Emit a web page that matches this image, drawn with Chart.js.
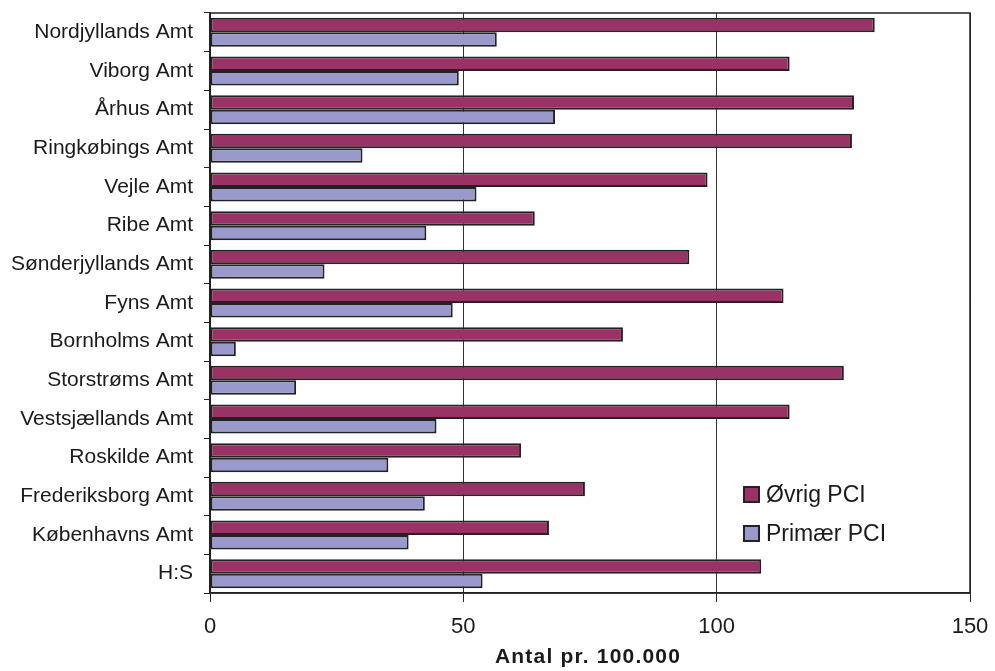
<!DOCTYPE html>
<html>
<head>
<meta charset="utf-8">
<script src="https://cdn.jsdelivr.net/npm/chart.js@4"></script>
<style>
  html, body { margin: 0; padding: 0; background: #fff; }
  #wrap { width: 995px; height: 671px; }
</style>
</head>
<body>
<div id="wrap"><canvas id="pciChart" width="995" height="671"></canvas></div>
<script>
const amter = ['Nordjyllands Amt', 'Viborg Amt', 'Århus Amt', 'Ringkøbings Amt', 'Vejle Amt', 'Ribe Amt',
  'Sønderjyllands Amt', 'Fyns Amt', 'Bornholms Amt', 'Storstrøms Amt', 'Vestsjællands Amt',
  'Roskilde Amt', 'Frederiksborg Amt', 'Københavns Amt', 'H:S'];
const oevrigPci = [131.2, 114.4, 127.1, 126.7, 98.2, 64.1, 94.6, 113.2, 81.5, 125.1, 114.4, 61.4, 74.0, 66.9, 108.8];
const primaerPci = [56.6, 49.1, 68.1, 30.1, 52.6, 42.7, 22.6, 47.9, 5.1, 17.0, 44.7, 35.2, 42.4, 39.2, 53.8];
const xTicks = [0, 50, 100, 150];
const xTitle = 'Antal pr. 100.000';

const fontFamily = '"Liberation Sans", Arial, sans-serif';
const textColor = '#1a1a1a';

// frame around plot, legend inside the plot, and the spaced-out axis title
const framePlugin = {
  id: 'frame',
  afterDraw(chart) {
    const { ctx, chartArea: a } = chart;
    ctx.save();
    ctx.strokeStyle = '#222';
    ctx.lineWidth = 1.5;
    ctx.strokeRect(a.left, a.top, a.right - a.left, a.bottom - a.top);

    let y = 495;
    chart.data.datasets.forEach(ds => {
      ctx.fillStyle = ds.backgroundColor;
      ctx.fillRect(744, y - 8, 15, 15);
      ctx.strokeStyle = '#222';
      ctx.lineWidth = 2;
      ctx.strokeRect(744, y - 8, 15, 15);
      ctx.fillStyle = textColor;
      ctx.font = '23px ' + fontFamily;
      ctx.textBaseline = 'middle';
      ctx.fillText(ds.label, 766, y + 1);
      y += 39;
    });

    ctx.font = 'bold 21px ' + fontFamily;
    ctx.letterSpacing = '1.2px';
    ctx.textAlign = 'center';
    ctx.textBaseline = 'alphabetic';
    ctx.fillStyle = textColor;
    ctx.fillText(xTitle, (a.left + a.right) / 2 - 2, 663);
    ctx.restore();
  }
};

new Chart(document.getElementById('pciChart'), {
  type: 'bar',
  data: {
    labels: amter,
    datasets: [
      {
        label: 'Øvrig PCI',
        data: oevrigPci,
        backgroundColor: '#993366',
        borderColor: '#222',
        borderWidth: 2,
        borderSkipped: false,
        categoryPercentage: 0.75,
        barPercentage: 1
      },
      {
        label: 'Primær PCI',
        data: primaerPci,
        backgroundColor: '#9999cc',
        borderColor: '#222',
        borderWidth: 2,
        borderSkipped: false,
        categoryPercentage: 0.75,
        barPercentage: 1
      }
    ]
  },
  options: {
    indexAxis: 'y',
    responsive: false,
    animation: false,
    layout: { padding: { top: 13, right: 25, bottom: 0, left: 0 } },
    plugins: {
      legend: { display: false },
      tooltip: { enabled: false }
    },
    scales: {
      x: {
        min: 0,
        max: 150,
        afterBuildTicks: scale => { scale.ticks = xTicks.map(v => ({ value: v })); },
        afterFit: scale => {
          scale.height = 78;
          scale.paddingLeft = 0;
          scale.paddingRight = 0;
        },
        grid: {
          color: '#333',
          lineWidth: 1,
          tickLength: 9,
          tickColor: '#222'
        },
        border: { color: '#222', width: 1.5 },
        ticks: {
          color: textColor,
          font: { family: fontFamily, size: 22 },
          padding: 12
        }
      },
      y: {
        afterFit: scale => {
          scale.width = 210;
          scale.paddingTop = 0;
          scale.paddingBottom = 0;
        },
        grid: {
          offset: true,
          drawOnChartArea: false,
          tickLength: 6,
          tickColor: '#222'
        },
        border: { color: '#222', width: 1.5 },
        ticks: {
          color: textColor,
          font: { family: fontFamily, size: 21 },
          padding: 11
        }
      }
    }
  },
  plugins: [framePlugin]
});
</script>
</body>
</html>
